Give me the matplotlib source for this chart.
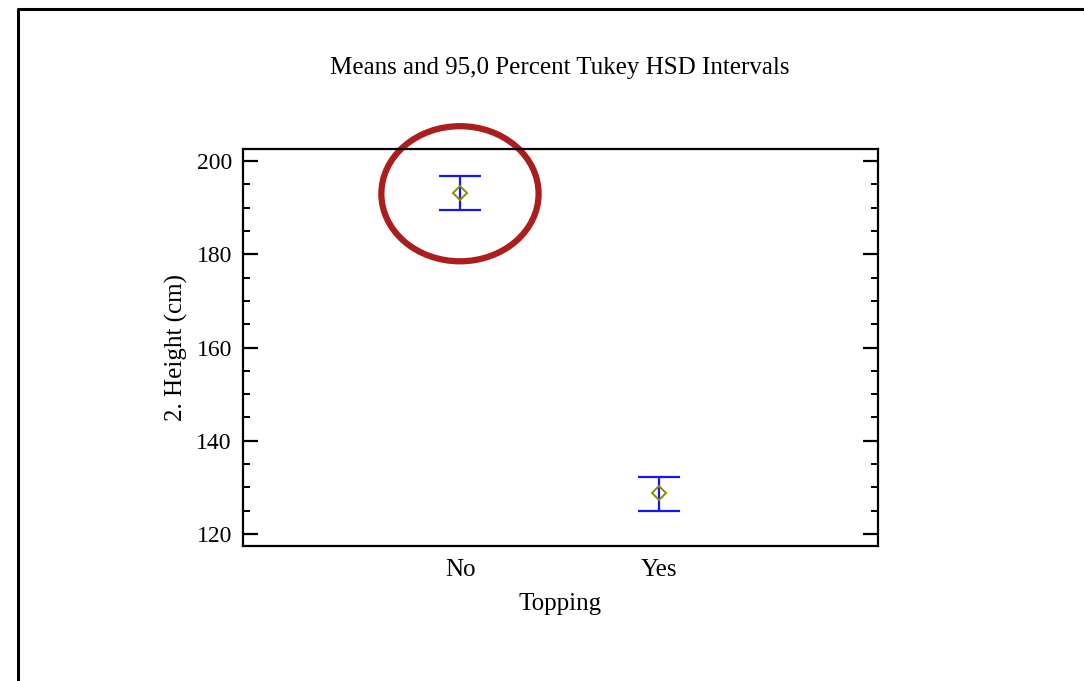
import numpy as np
import matplotlib.pyplot as plt
from matplotlib.patches import Ellipse
from matplotlib.lines import Line2D
from matplotlib.ticker import MultipleLocator

plt.rcParams['font.family'] = ['Liberation Serif', 'DejaVu Serif']

# group means and Tukey HSD interval limits
groups = ['No', 'Yes']
means = [193.2, 128.7]
lower = [189.6, 125.0]
upper = [196.9, 132.3]

x = np.arange(1, len(groups) + 1)
m = np.array(means)
err = np.vstack([m - np.array(lower), np.array(upper) - m])

fig = plt.figure(figsize=(10.84, 6.81), dpi=100)
ax = fig.add_axes([243 / 1084, 1 - 546 / 681, 635 / 1084, 397 / 681])

# outer frame of the plot window
fig.add_artist(Line2D([18 / 1084, 18 / 1084, 1.01], [-0.01, 1 - 9 / 681, 1 - 9 / 681],
                      transform=fig.transFigure, color='black', lw=2.2))

ax.errorbar(x, m, yerr=err, fmt='none', ecolor='#1414ff', elinewidth=1.6,
            capsize=15, capthick=1.6)
ax.plot(x, m, linestyle='none', marker='D', markersize=7.5, markerfacecolor='none',
        markeredgecolor='#8c8c00', markeredgewidth=1.4)

ax.set_xlim(-0.09, 3.1)
ax.set_ylim(117.4, 202.6)
ax.set_xticks(x)
ax.set_xticklabels(groups)
ax.yaxis.set_major_locator(MultipleLocator(20))
ax.yaxis.set_minor_locator(MultipleLocator(5))
ax.tick_params(axis='x', length=0, labelsize=18, pad=9)
ax.tick_params(axis='y', which='major', direction='in', length=11, width=1.6,
               right=True, labelsize=17, pad=8)
ax.tick_params(axis='y', which='minor', direction='in', length=5, width=1.4, right=True)
for s in ax.spines.values():
    s.set_linewidth(1.6)

ax.set_xlabel('Topping', fontsize=18, labelpad=9)
ax.set_ylabel('2. Height (cm)', fontsize=18, labelpad=6)
fig.text(560 / 1084, 1 - 68 / 681, 'Means and 95,0 Percent Tukey HSD Intervals',
         ha='center', va='center', fontsize=18)

# highlight around the first group
ax.add_patch(Ellipse((x[0], m[0] - 0.2), width=0.79, height=29, fill=False,
                     edgecolor='#ac1d1d', linewidth=4.5, clip_on=False))

fig.savefig('out.png', dpi=100)
